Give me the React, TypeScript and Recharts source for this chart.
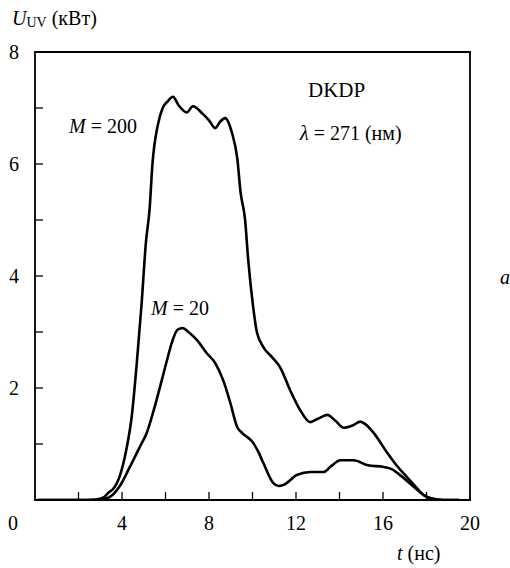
import { Line, LineChart, ReferenceArea, XAxis, YAxis } from "recharts";

// M = 200 pulse, t in ns, U in kW
const tM200 = [
  0.1, 2.0, 2.8, 3.13, 3.4, 3.6, 3.9, 4.2, 4.45, 4.67, 4.9, 5.1, 5.27, 5.4,
  5.65, 5.87, 6.1, 6.34, 6.6, 6.98, 7.26, 7.7, 8.0, 8.28, 8.5, 8.74, 9.06,
  9.3, 9.45, 9.66, 9.8, 10.03, 10.2, 10.5, 10.9, 11.27, 11.73, 12.2, 12.66,
  13.0, 13.44, 13.8, 14.2, 14.6, 14.96, 15.2, 15.57, 16.2, 16.6, 17.1, 17.5,
  17.87, 18.2, 18.6, 19.5,
];
const uM200 = [
  0, 0, 0.01, 0.04, 0.14, 0.2, 0.43, 0.9, 1.5, 2.4, 3.5, 4.6, 5.2, 6.0, 6.7,
  7.0, 7.12, 7.2, 7.05, 6.92, 7.03, 6.9, 6.78, 6.64, 6.75, 6.82, 6.55, 6.1,
  5.5, 5.0, 4.3, 3.45, 3.0, 2.73, 2.55, 2.37, 1.96, 1.6, 1.39, 1.45, 1.52,
  1.42, 1.29, 1.33, 1.4, 1.35, 1.2, 0.84, 0.63, 0.41, 0.24, 0.09, 0.03, 0, 0,
];

// M = 20 pulse
const tM20 = [
  0.1, 2.5, 3.1, 3.43, 3.9, 4.36, 4.82, 5.14, 5.42, 5.83, 6.07, 6.3, 6.55,
  6.8, 7.05, 7.44, 7.9, 8.28, 8.65, 8.97, 9.3, 9.52, 10.03, 10.27, 10.5,
  10.96, 11.2, 11.43, 12.06, 12.66, 13.27, 13.6, 14.04, 14.65, 15.3, 16.03,
  16.4, 16.67, 17.4, 17.9, 18.3, 18.8, 19.5,
];
const uM20 = [
  0, 0, 0.01, 0.05, 0.25, 0.59, 0.95, 1.2, 1.55, 2.14, 2.5, 2.82, 3.04, 3.07,
  3.0, 2.86, 2.62, 2.45, 2.14, 1.75, 1.3, 1.2, 1.02, 0.86, 0.66, 0.3, 0.25,
  0.27, 0.45, 0.5, 0.5, 0.6, 0.71, 0.71, 0.62, 0.59, 0.55, 0.48, 0.24, 0.08,
  0.02, 0, 0,
];

const xTicks = [0, 2, 4, 6, 8, 10, 12, 14, 16, 18, 20];
const xLabels = [0, 4, 8, 12, 16, 20];
const yTicks = [0, 1, 2, 3, 4, 5, 6, 7, 8];
const yLabels = [2, 4, 6, 8];

const m200 = tM200.map((t, i) => ({ t, u: uM200[i] }));
const m20 = tM20.map((t, i) => ({ t, u: uM20[i] }));

const FONT = "Liberation Serif";
const INK = "#000";

function XTick(props: any) {
  const { x, y, payload } = props;
  const v = payload.value;
  return (
    <g>
      {v > 0 && v < 20 && (
        <line x1={x} y1={y} x2={x} y2={y - 8} stroke={INK} strokeWidth={1.3} />
      )}
      {xLabels.includes(v) && (
        <text
          x={v === 0 ? x - 22 : x}
          y={y + 30}
          textAnchor="middle"
          fontFamily={FONT}
          fontSize={20}
          fill={INK}
        >
          {v}
        </text>
      )}
    </g>
  );
}

function YTick(props: any) {
  const { x, y, payload } = props;
  const v = payload.value;
  return (
    <g>
      {v > 0 && v < 8 && (
        <line x1={x} y1={y} x2={x + 8} y2={y} stroke={INK} strokeWidth={1.3} />
      )}
      {yLabels.includes(v) && (
        <text
          x={x - 21}
          y={y + 7}
          textAnchor="middle"
          fontFamily={FONT}
          fontSize={20}
          fill={INK}
        >
          {v}
        </text>
      )}
    </g>
  );
}

function Note({ left, top, size = 20, children }: any) {
  return (
    <div
      style={{
        position: "absolute",
        left,
        top,
        fontFamily: FONT,
        fontSize: size,
        lineHeight: 1,
        whiteSpace: "nowrap",
        color: INK,
      }}
    >
      {children}
    </div>
  );
}

export default function App() {
  return (
    <div style={{ position: "absolute", left: 0, top: 0, width: 510, height: 568, background: "#fff" }}>
      <LineChart
        width={500}
        height={545}
        margin={{ top: 52, right: 30, left: 0, bottom: 0 }}
      >
        <XAxis
          type="number"
          dataKey="t"
          domain={[0, 20]}
          ticks={xTicks}
          interval={0}
          height={45}
          axisLine={false}
          tickLine={false}
          tickSize={0}
          tickMargin={0}
          tick={<XTick />}
          allowDataOverflow
        />
        <YAxis
          type="number"
          dataKey="u"
          domain={[0, 8]}
          ticks={yTicks}
          interval={0}
          width={35}
          axisLine={false}
          tickLine={false}
          tickSize={0}
          tickMargin={0}
          tick={<YTick />}
          allowDataOverflow
        />
        <ReferenceArea
          x1={0}
          x2={20}
          y1={0}
          y2={8}
          fill="none"
          fillOpacity={0}
          stroke={INK}
          strokeWidth={1.8}
        />
        <Line
          data={m200}
          dataKey="u"
          type="monotone"
          stroke={INK}
          strokeWidth={2.6}
          dot={false}
          isAnimationActive={false}
        />
        <Line
          data={m20}
          dataKey="u"
          type="monotone"
          stroke={INK}
          strokeWidth={2.6}
          dot={false}
          isAnimationActive={false}
        />
      </LineChart>
      <Note left={12} top={8}>
        <i>U</i>
        <span style={{ fontSize: 14, position: "relative", top: 2 }}>UV</span> (кВт)
      </Note>
      <Note left={397} top={543}>
        <i>t</i> (нс)
      </Note>
      <Note left={308} top={80} size={21}>DKDP</Note>
      <Note left={300} top={123}>
        <i>λ</i> = 271 (нм)
      </Note>
      <Note left={69} top={116}>
        <i>M</i> = 200
      </Note>
      <Note left={151} top={298}>
        <i>M</i> = 20
      </Note>
      <Note left={500} top={267}>
        <i>a</i>
      </Note>
    </div>
  );
}
